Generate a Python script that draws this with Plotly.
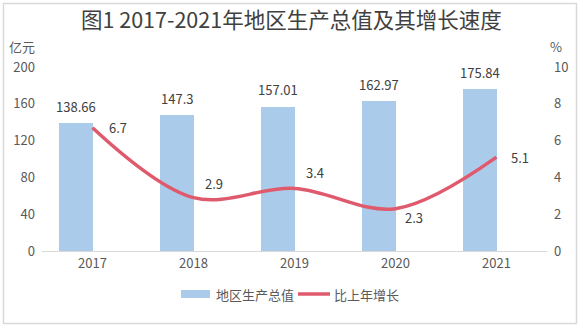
import plotly.graph_objects as go

# Data
years = ["2017", "2018", "2019", "2020", "2021"]
gdp = [138.66, 147.3, 157.01, 162.97, 175.84]          # 亿元
growth = [6.7, 2.9, 3.4, 2.3, 5.1]                      # %
left_ticks = [0, 40, 80, 120, 160, 200]
right_ticks = [0, 2, 4, 6, 8, 10]

# Style
BAR_COLOR = "#ABCBEA"
LINE_COLOR = "#E05A6E"
TEXT_COLOR = "#404040"
AXIS_COLOR = "#D9D9D9"
FONT = "Noto Sans CJK SC"

# pixel offsets of the growth labels relative to their points
growth_label_shift = [(25, 0), (20, 14), (20, 16), (18, -9), (23, 0)]

W, H = 583, 330
L, R, T, B = 42, 36, 67, 79
pw, ph = W - L - R, H - T - B


def px_x(p):
    return (p - L) / pw


def px_y(p):
    return (H - B - p) / ph


fig = go.Figure()

fig.add_trace(go.Bar(
    x=years, y=gdp, name="地区生产总值",
    marker=dict(color=BAR_COLOR, line=dict(width=0)),
    width=0.336, offset=-0.336,
    showlegend=False, hoverinfo="x+y",
))

fig.add_trace(go.Scatter(
    x=years, y=growth, name="比上年增长", yaxis="y2",
    mode="lines", line=dict(color=LINE_COLOR, width=3.5, shape="spline", smoothing=1),
    showlegend=False,
))

annotations = []
# category axes place annotations by category index
for i, v in enumerate(gdp):
    annotations.append(dict(
        x=i, y=v, xref="x", yref="y", text=f"{v:g}", showarrow=False,
        xshift=-17, yshift=17, font=dict(size=13, color=TEXT_COLOR, family=FONT),
    ))
for i, (v, (dx, dy)) in enumerate(zip(growth, growth_label_shift)):
    annotations.append(dict(
        x=i, y=v, xref="x", yref="y2", text=f"{v:g}", showarrow=False,
        xshift=dx, yshift=dy, font=dict(size=13, color=TEXT_COLOR, family=FONT),
    ))

# title and axis units
annotations.append(dict(
    x=px_x(291), xref="paper", y=px_y(19), yref="paper", xanchor="center", yanchor="middle",
    text="图1 2017-2021年地区生产总值及其增长速度", showarrow=False,
    font=dict(size=21.5, color=TEXT_COLOR, family=FONT),
))
annotations.append(dict(
    x=px_x(22), xref="paper", y=px_y(47), yref="paper", xanchor="center", yanchor="middle",
    text="亿元", showarrow=False, font=dict(size=13, color="#595959", family=FONT),
))
annotations.append(dict(
    x=px_x(556), xref="paper", y=px_y(47), yref="paper", xanchor="center", yanchor="middle",
    text="%", showarrow=False, font=dict(size=13, color="#595959", family=FONT),
))

# legend
annotations.append(dict(
    x=px_x(214), xref="paper", y=px_y(294), yref="paper", xanchor="left", yanchor="middle",
    text="地区生产总值", showarrow=False, font=dict(size=13, color="#595959", family=FONT),
))
annotations.append(dict(
    x=px_x(332), xref="paper", y=px_y(294), yref="paper", xanchor="left", yanchor="middle",
    text="比上年增长", showarrow=False, font=dict(size=13, color="#595959", family=FONT),
))

shapes = [
    # outer frame
    dict(type="rect", xref="paper", yref="paper",
         x0=px_x(3.5), x1=px_x(576.5), y0=px_y(323.5), y1=px_y(3.5),
         line=dict(color=AXIS_COLOR, width=1.5), fillcolor="rgba(0,0,0,0)", layer="below"),
    # legend swatches
    dict(type="rect", xref="paper", yref="paper",
         x0=px_x(181), x1=px_x(210), y0=px_y(298), y1=px_y(290),
         line=dict(width=0), fillcolor=BAR_COLOR),
    dict(type="line", xref="paper", yref="paper",
         x0=px_x(298), x1=px_x(330), y0=px_y(294), y1=px_y(294),
         line=dict(color=LINE_COLOR, width=3.5)),
]

fig.update_layout(
    width=W, height=H,
    margin=dict(l=L, r=R, t=T, b=B),
    paper_bgcolor="white", plot_bgcolor="white",
    font=dict(family=FONT, size=13, color="#595959"),
    xaxis=dict(
        type="category", range=[-0.5, 4.5], showgrid=False, zeroline=False,
        showline=True, linecolor=AXIS_COLOR, linewidth=1, ticks="",
        tickfont=dict(size=13, color="#595959"),
    ),
    yaxis=dict(
        range=[0, 200], tickvals=left_ticks, showgrid=False, zeroline=False,
        showline=False, ticks="", ticklabelstandoff=6,
        tickfont=dict(size=13, color="#595959"),
    ),
    yaxis2=dict(
        range=[0, 10], tickvals=right_ticks, overlaying="y", side="right",
        showgrid=False, zeroline=False, showline=False, ticks="", ticklabelstandoff=6,
        tickfont=dict(size=13, color="#595959"),
    ),
    annotations=annotations,
    shapes=shapes,
    showlegend=False,
    bargap=0,
)

fig.write_html("out.html")
